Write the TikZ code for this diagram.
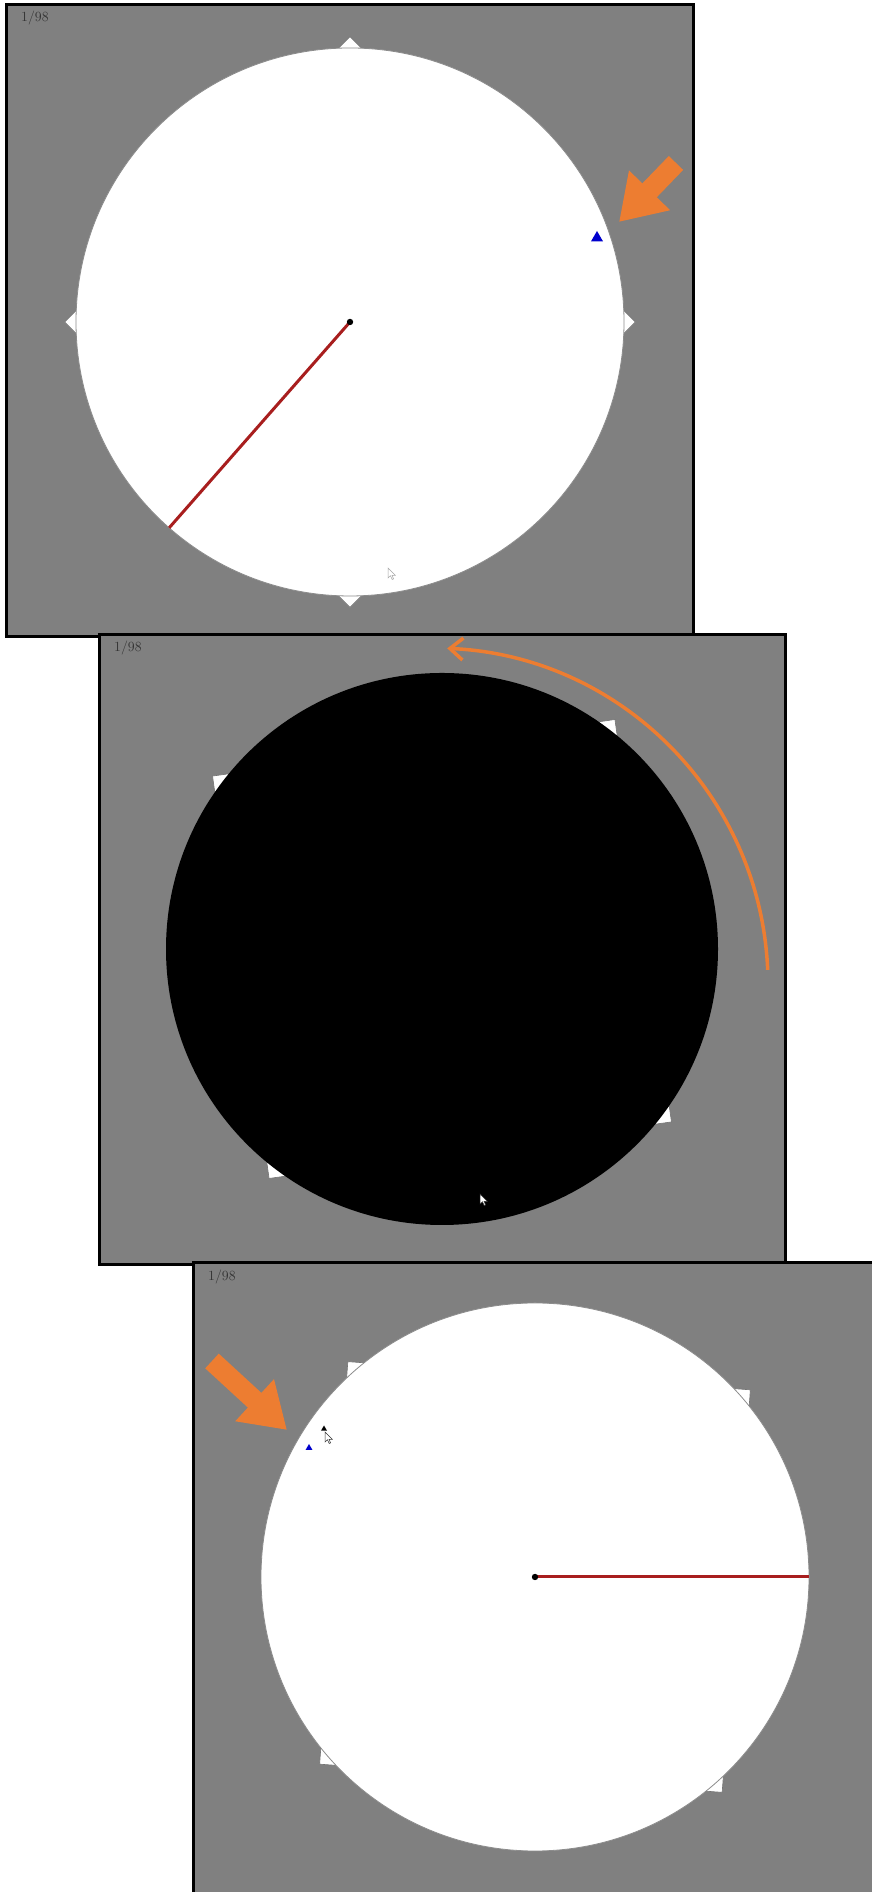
\documentclass[tikz,border=0pt]{standalone}
\usepackage{tikz}
\usetikzlibrary{arrows.meta, calc, shapes.geometric}
\definecolor{ScreenGray}{RGB}{128,128,128}
\definecolor{HandRed}{RGB}{168,30,30}
\definecolor{OrangeAccent}{RGB}{237,125,49}
\definecolor{MarkBlue}{RGB}{0,0,205}

\begin{document}
\begin{tikzpicture}[x=1pt, y=1pt,
  panel/.style={draw=black, line width=3pt, fill=ScreenGray},
  dial/.style={draw=black!45, line width=0.8pt},
  tickmark/.style={draw=black!55, fill=white, line width=0.6pt,
                   minimum size=16pt, inner sep=0pt},
  hand/.style={HandRed, line width=3pt},
  counter/.style={anchor=north west, inner sep=0pt, text=black!80,
                  font=\fontsize{14}{16}\selectfont},
  target/.style={regular polygon, regular polygon sides=3, inner sep=0pt},
  blockarrow/.style={OrangeAccent, line width=20pt,
                     -{Triangle[length=44pt, width=54pt]}},
  arcarrow/.style={OrangeAccent, line width=3.5pt,
                   -{Straight Barb[length=13pt, width=22pt]}},
  pointer/.style={draw=black!80, fill=white, line width=0.5pt},
]
\useasboundingbox (0,0) rectangle (872,1892);
\clip (0,0) rectangle (872,1892);

% first screen
\coordinate (c1) at (350,1570);
\draw[panel] (6,1255) rectangle (693,1887);
\foreach \a in {0,90,180,270}
  \node[tickmark, rotate=\a+45] (m1-\a) at ($(c1)+(\a:274)$) {};
\fill[white] (c1) circle (274);
\draw[dial] (c1) circle (274);
\draw[hand] (c1) -- ($(c1)+(228.7:274)$);
\fill (c1) circle (3.2);
\node[target, fill=MarkBlue, minimum size=14pt] (t1) at (597,1654) {};
\node[counter] (n1) at (21,1881) {1/98};
\coordinate (a1tail) at (676,1729);
\coordinate (a1tip) at (619,1670);
\draw[blockarrow] (a1tail) -- (a1tip);
\draw[pointer, draw=black!35] (388,1324) -- ++(0,-10) -- ++(2.5,2.2) -- ++(1.7,-3.7)
  -- ++(1.4,0.6) -- ++(-1.6,3.6) -- ++(3.2,0) -- cycle;

% second screen
\coordinate (c2) at (442,943);
\draw[panel] (99,627) rectangle (785,1257);
\foreach \a in {53,143,233,323}
  \node[tickmark, rotate=\a+45] (m2-\a) at ($(c2)+(\a:276)$) {};
\fill[black] (c2) circle (276);
\node[counter] (n2) at (114,1251) {1/98};
\coordinate (o2) at (432,908);
\draw[arcarrow] ($(o2)+(2.4:336)$) arc[start angle=2.4, end angle=87.4, radius=336];
\draw[pointer] (480,698) -- ++(0,-10) -- ++(2.5,2.2) -- ++(1.7,-3.7)
  -- ++(1.4,0.6) -- ++(-1.6,3.6) -- ++(3.2,0) -- cycle;

% third screen
\coordinate (c3) at (535,315);
\draw[panel] (193,-10) rectangle (885,629);
\foreach \a in {41,131,221,311}
  \node[tickmark, rotate=\a+45] (m3-\a) at ($(c3)+(\a:274)$) {};
\fill[white] (c3) circle (274);
\draw[dial] (c3) circle (274);
\draw[hand] (c3) -- ($(c3)+(0:274)$);
\fill (c3) circle (3.2);
\node[target, fill=MarkBlue, minimum size=8pt] (t3) at (309,444) {};
\node[target, fill=black, minimum size=7pt] (k3) at (324,463) {};
\draw[pointer] (325,460) -- ++(0,-10) -- ++(2.5,2.2) -- ++(1.7,-3.7)
  -- ++(1.4,0.6) -- ++(-1.6,3.6) -- ++(3.2,0) -- cycle;
\node[counter] (n3) at (208,622) {1/98};
\coordinate (a3tail) at (212,531);
\coordinate (a3tip) at (287,462);
\draw[blockarrow] (a3tail) -- (a3tip);
\end{tikzpicture}
\end{document}
